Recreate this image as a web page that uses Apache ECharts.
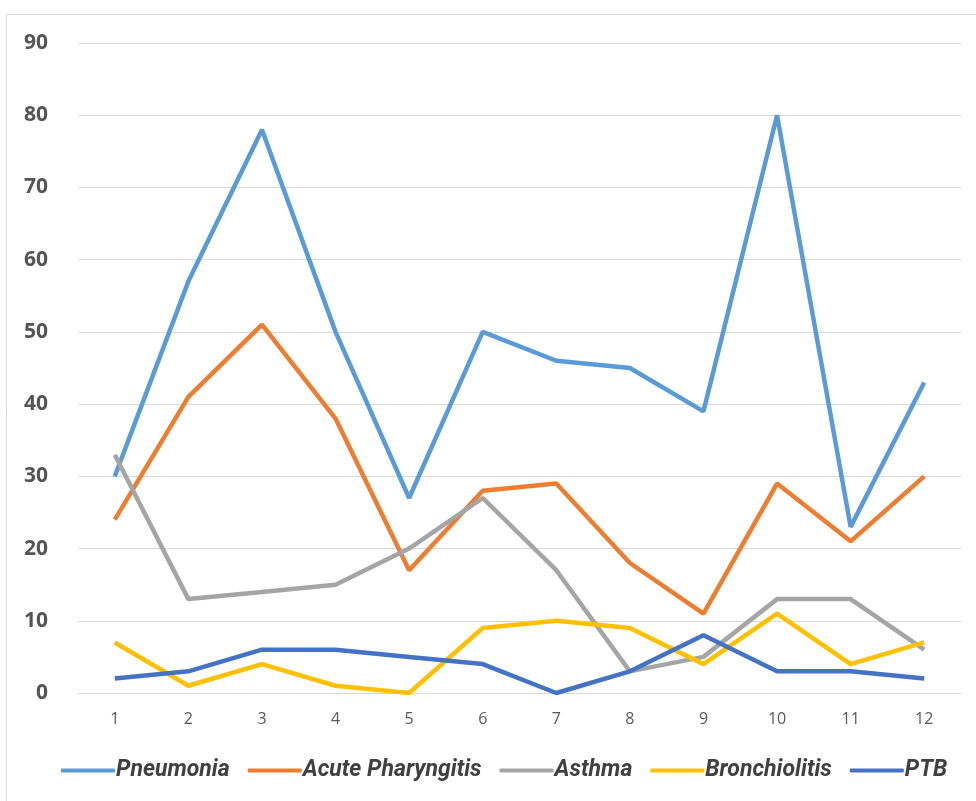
<!DOCTYPE html>
<html><head><meta charset="utf-8">
<script src="https://cdn.jsdelivr.net/npm/echarts@6/dist/echarts.min.js"></script>
<style>html,body{margin:0;padding:0;background:#fff}#c{width:976px;height:801px}</style>
</head><body><div id="c"></div>
<script>
const categories = ['1','2','3','4','5','6','7','8','9','10','11','12'];
const pneumonia = [30, 57, 78, 50, 27, 50, 46, 45, 39, 80, 23, 43];
const acutePharyngitis = [24, 41, 51, 38, 17, 28, 29, 18, 11, 29, 21, 30];
const asthma = [33, 13, 14, 15, 20, 27, 17, 3, 5, 13, 13, 6];
const bronchiolitis = [7, 1, 4, 1, 0, 9, 10, 9, 4, 11, 4, 7];
const ptb = [2, 3, 6, 6, 5, 4, 0, 3, 8, 3, 3, 2];
const seriesNames = ['Pneumonia','Acute Pharyngitis','Asthma','Bronchiolitis','PTB'];
const colors = ['#5B9BD5','#ED7D31','#A5A5A5','#FFC000','#4472C4'];
const allData = [pneumonia, acutePharyngitis, asthma, bronchiolitis, ptb];

const chart = echarts.init(document.getElementById('c'));
chart.setOption({
  animation: false,
  color: colors,
  graphic: [{type:'rect', shape:{x:6.5,y:14.5,width:980,height:800}, style:{fill:'none',stroke:'#d9d9d9',lineWidth:1}}],
  grid: {left: 78, right: 15, top: 43, bottom: 108, containLabel: false},
  legend: {
    bottom: 14, left: 56, itemWidth: 54, itemHeight: 4, itemGap: 18,
    icon: 'roundRect',
    textStyle: {fontFamily: 'Roboto', fontStyle: 'italic', fontWeight: 'bold', fontSize: 23, color: '#404040', padding:[0,0,0,-4]},
    data: seriesNames
  },
  xAxis: {
    type: 'category', data: categories, boundaryGap: true,
    axisLine: {show: false}, axisTick: {show: false},
    axisLabel: {color: '#595959', fontSize: 16, margin: 18, fontFamily: 'Open Sans'}
  },
  yAxis: {
    type: 'value', min: 0, max: 90, interval: 10,
    axisLine: {show: false}, axisTick: {show: false},
    axisLabel: {color: '#555555', fontSize: 21, fontWeight: 'bold', margin: 30, align: 'right', fontFamily: 'Open Sans'},
    splitLine: {lineStyle: {color: '#d9d9d9', width: 1}}
  },
  series: seriesNames.map((n, i) => ({
    name: n, type: 'line', data: allData[i], symbol: 'none',
    lineStyle: {width: 4.5, color: colors[i]}
  }))
});
</script></body></html>
